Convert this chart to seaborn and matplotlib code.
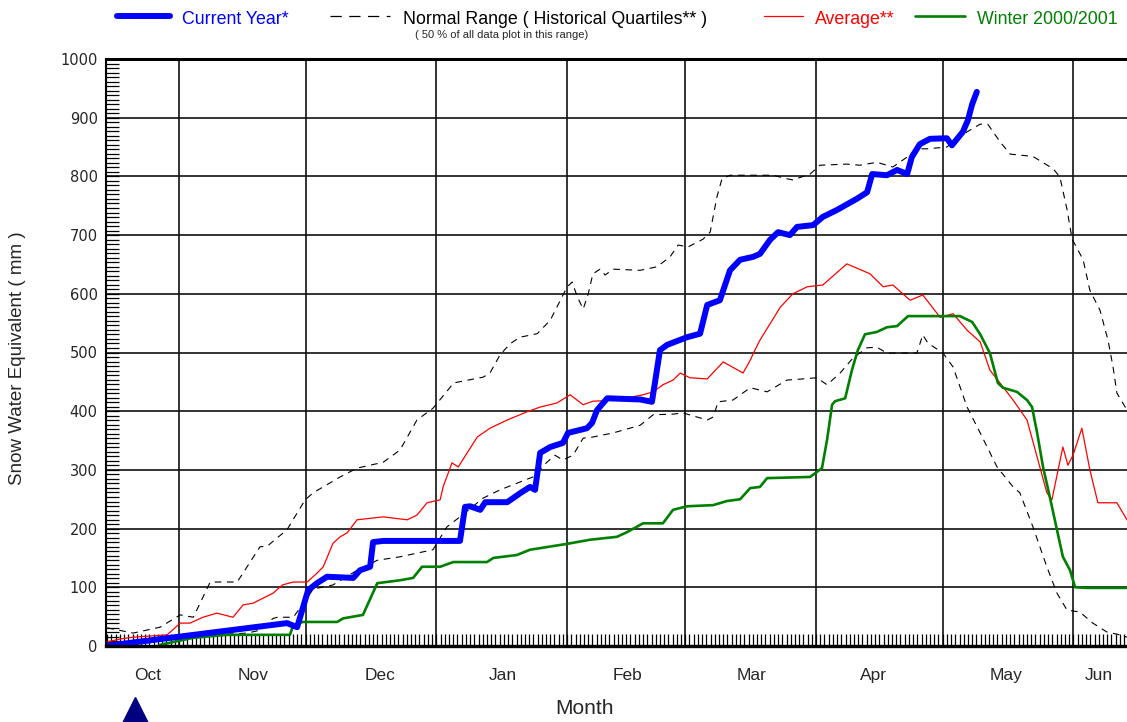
import pandas as pd
import matplotlib
matplotlib.use('Agg')
import matplotlib.pyplot as plt
import seaborn as sns
from matplotlib.lines import Line2D
from matplotlib.ticker import MultipleLocator, FixedLocator, NullFormatter
from matplotlib.transforms import blended_transform_factory

# x = days since Oct 1, y = snow water equivalent (mm)
cur_day = [13.5, 56.6, 59.0, 60.9, 61.6, 63.7, 66.1, 72.3, 73.9, 76.3, 77.0, 79.4, 97.6, 98.8, 100.0,
           102.4, 103.6, 108.8, 111.8, 114.2, 115.4, 116.6, 119.0, 122.0, 123.2, 127.7, 128.9, 130.1,
           132.5, 140.3, 143.1, 143.8, 145.0, 146.7, 151.4, 154.5, 156.2, 159.2, 161.6, 164.0, 167.1,
           168.7, 171.1, 173.0, 175.8, 177.5, 181.3, 183.6, 187.0, 191.7, 194.1, 195.3, 198.8, 201.2,
           203.6, 204.7, 206.6, 209.0, 213.0, 214.2, 216.8, 218.0, 219.0, 220.1]
cur_swe = [0, 39, 32, 78, 95, 107, 118, 116, 129, 135, 177, 179, 179, 237, 238, 232, 245, 245, 260,
           271, 266, 329, 339, 346, 363, 371, 380, 402, 422, 420, 416, 448, 504, 513, 526, 532, 581,
           589, 640, 658, 663, 668, 692, 705, 700, 714, 717, 731, 743, 762, 773, 804, 802, 811, 804,
           833, 855, 864, 865, 853, 876, 896, 923, 944]

hi_day = [14.0, 20.1, 26.5, 31.3, 34.4, 38.4, 44.8, 50.2, 51.9, 56.6, 60.9, 62.8, 69.2, 73.2, 79.4,
          83.4, 87.4, 91.2, 95.3, 96.0, 103.1, 104.7, 107.1, 109.5, 111.8, 115.9, 119.0, 123.0, 124.2,
          125.4, 126.8, 128.0, 129.1, 130.8, 132.0, 133.9, 140.3, 144.3, 147.4, 149.3, 151.7, 155.2,
          156.9, 158.5, 159.7, 161.6, 171.8, 175.1, 176.5, 180.6, 182.9, 189.3, 192.4, 196.4, 200.2,
          203.6, 205.9, 208.3, 213.0, 217.8, 220.9, 222.7, 225.6, 228.0, 233.4, 238.2, 239.8, 241.5,
          242.7, 245.3, 246.9, 249.3, 251.2, 252.4, 253.3, 255.7]
hi_swe = [31, 22, 32, 53, 49, 109, 109, 169, 170, 198, 249, 261, 288, 303, 313, 334, 385, 405, 441,
          448, 458, 465, 496, 515, 526, 532, 555, 612, 620, 595, 574, 600, 634, 642, 632, 642, 640,
          646, 663, 683, 680, 693, 705, 765, 796, 802, 802, 796, 794, 804, 819, 821, 819, 824, 816,
          833, 847, 847, 850, 876, 889, 889, 859, 838, 834, 813, 799, 743, 693, 658, 606, 572, 521,
          475, 431, 402]

lo_day = [13.5, 24.2, 38.4, 47.2, 50.2, 53.3, 54.3, 58.1, 61.4, 62.8, 67.5, 73.2, 78.0, 83.4, 91.2,
          94.5, 97.6, 103.1, 107.1, 114.9, 118.2, 120.1, 122.0, 124.4, 126.8, 129.1, 133.9, 140.3,
          143.4, 148.1, 150.5, 156.2, 157.6, 158.8, 162.3, 166.4, 170.4, 175.1, 178.9, 182.2, 184.6,
          187.7, 190.8, 194.1, 196.4, 198.8, 205.9, 207.3, 208.5, 212.1, 214.5, 217.8, 220.9, 224.9,
          228.7, 230.3, 233.4, 236.7, 239.1, 241.5, 244.5, 247.6, 250.9, 254.0, 255.7]
lo_swe = [5, 8, 19, 22, 27, 47, 49, 49, 82, 97, 104, 129, 146, 152, 164, 203, 220, 252, 266, 288,
          313, 325, 317, 325, 354, 356, 363, 376, 394, 395, 397, 385, 390, 416, 419, 440, 433, 453,
          455, 457, 445, 465, 491, 508, 509, 499, 499, 530, 516, 499, 475, 407, 363, 305, 271, 261,
          203, 135, 90, 61, 58, 39, 24, 19, 15]

avg_day = [14.0, 17.1, 20.1, 28.2, 31.3, 33.6, 36.7, 40.0, 43.8, 46.2, 48.6, 53.3, 55.5, 58.1, 61.4,
           63.7, 65.2, 67.5, 69.2, 70.9, 73.2, 79.4, 85.1, 87.4, 89.8, 92.9, 93.6, 95.7, 97.2, 99.3,
           101.7, 104.7, 108.8, 113.5, 116.6, 120.6, 123.7, 126.8, 129.1, 134.8, 141.0, 143.4, 145.7,
           148.1, 149.8, 152.1, 156.2, 160.0, 164.7, 166.4, 167.5, 168.7, 173.5, 176.5, 179.9, 183.6,
           189.3, 194.8, 197.9, 200.2, 204.3, 207.3, 211.4, 214.5, 217.8, 220.9, 223.2, 225.6, 228.7,
           232.0, 234.4, 236.7, 237.9, 240.5, 241.7, 242.9, 245.0, 246.9, 248.8, 253.3, 255.7]
avg_swe = [7, 12, 15, 19, 39, 39, 49, 56, 49, 70, 73, 90, 104, 109, 109, 124, 135, 175, 186, 193,
           215, 220, 215, 223, 244, 249, 271, 312, 305, 329, 356, 371, 385, 399, 407, 414, 428, 411,
           417, 419, 428, 433, 445, 453, 465, 457, 455, 484, 465, 487, 504, 521, 577, 600, 612, 615,
           651, 634, 612, 615, 589, 598, 560, 566, 538, 518, 470, 448, 419, 385, 322, 261, 249, 339,
           308, 325, 371, 300, 244, 244, 215]

w01_day = [26.5, 34.4, 42.4, 57.3, 58.1, 60.4, 68.5, 69.9, 74.6, 78.0, 83.4, 86.5, 88.6, 92.9, 96.0,
           104.0, 105.5, 111.1, 114.2, 123.0, 128.4, 134.8, 137.2, 141.0, 145.7, 148.1, 151.4, 157.6,
           160.9, 164.0, 166.4, 168.7, 170.4, 180.6, 183.4, 184.6, 185.8, 186.5, 188.9, 190.5, 191.9,
           193.6, 196.4, 198.8, 201.2, 203.8, 216.1, 219.0, 220.9, 223.2, 225.1, 226.3, 229.6, 232.0,
           233.2, 234.4, 235.8, 237.4, 239.1, 240.5, 242.2, 243.4, 246.2, 255.7]
w01_swe = [2, 14, 19, 19, 36, 41, 41, 47, 53, 107, 112, 116, 135, 135, 143, 143, 150, 155, 164, 174,
           181, 186, 194, 209, 209, 232, 238, 240, 247, 250, 269, 271, 286, 288, 303, 351, 411, 417,
           422, 470, 504, 531, 535, 543, 545, 562, 562, 552, 531, 499, 448, 440, 433, 419, 407, 363,
           305, 254, 198, 152, 129, 100, 99, 99]

month_starts = [31, 61, 92, 123, 151, 182, 212, 243]
month_names = ['Oct', 'Nov', 'Dec', 'Jan', 'Feb', 'Mar', 'Apr', 'May', 'Jun']
month_label_days = [23.5, 48.6, 78.7, 107.8, 137.2, 166.8, 195.5, 227.0, 249.0]
today_day = 20.6

sns.set_style('white')
plt.rcParams['font.family'] = ['Liberation Sans', 'DejaVu Sans']

W, H = 1127, 722
fig = plt.figure(figsize=(W / 100, H / 100), dpi=100)
ax = fig.add_axes([106 / W, 1 - 646 / H, (W - 106) / W, (646 - 59) / H])

dash = (0, (6, 5))
sns.lineplot(data=pd.DataFrame({'day': hi_day, 'swe': hi_swe}), x='day', y='swe', ax=ax,
             color='black', linewidth=0.8, linestyle=dash)
sns.lineplot(data=pd.DataFrame({'day': lo_day, 'swe': lo_swe}), x='day', y='swe', ax=ax,
             color='black', linewidth=0.8, linestyle=dash)
sns.lineplot(data=pd.DataFrame({'day': avg_day, 'swe': avg_swe}), x='day', y='swe', ax=ax,
             color='#ff0000', linewidth=0.9)
sns.lineplot(data=pd.DataFrame({'day': w01_day, 'swe': w01_swe}), x='day', y='swe', ax=ax,
             color='#008000', linewidth=1.9)
sns.lineplot(data=pd.DataFrame({'day': cur_day, 'swe': cur_swe}), x='day', y='swe', ax=ax,
             color='#0000ff', linewidth=4.3, solid_capstyle='round', solid_joinstyle='round')

ax.set_xlim(13.7, 255.7)
ax.set_ylim(0, 1000)
ax.set_xlabel('')
ax.set_ylabel('')

ax.xaxis.set_major_locator(FixedLocator(month_starts))
ax.xaxis.set_major_formatter(NullFormatter())
ax.xaxis.set_minor_locator(MultipleLocator(1))
ax.yaxis.set_major_locator(MultipleLocator(100))
ax.yaxis.set_minor_locator(MultipleLocator(100 / 13))
ax.grid(True, which='major', color='#111111', linewidth=1.2)
ax.set_axisbelow(True)
ax.tick_params(axis='x', which='both', direction='in', length=9, width=0.9, color='black',
               bottom=True, labelbottom=False)
ax.tick_params(axis='y', which='both', direction='in', length=9, width=0.9, color='black',
               left=True, labelsize=10.5, pad=6, labelfontfamily='DejaVu Sans')

for side, lw in [('top', 2.2), ('bottom', 2.4), ('left', 1.5)]:
    ax.spines[side].set_color('black')
    ax.spines[side].set_linewidth(lw)
ax.spines['right'].set_visible(False)

sec = ax.secondary_xaxis('bottom')
sec.set_xticks(month_label_days, labels=month_names)
sec.tick_params(length=0, pad=16, labelsize=12.5)
sec.spines['bottom'].set_visible(False)

# marker under the axis
trans = blended_transform_factory(ax.transData, ax.transAxes)
ax.plot([today_day], [-0.109], marker='^', markersize=19, color='#000080', transform=trans,
        clip_on=False, linestyle='none')

fig.text(18 / W, 1 - 358 / H, 'Snow Water Equivalent ( mm )', rotation=90, ha='center',
         va='center', fontsize=13.5)
fig.text(585 / W, 1 - 709 / H, 'Month', ha='center', va='center', fontsize=15)

# legend across the top
def legend_item(x0, x1, text_x, text, color, lw, ls='-'):
    fig.add_artist(Line2D([x0 / W, x1 / W], [1 - 16 / H, 1 - 16 / H], color=color, linewidth=lw,
                          linestyle=ls, transform=fig.transFigure))
    fig.text(text_x / W, 1 - 19 / H, text, color=color, ha='left', va='center', fontsize=12.8)

legend_item(117, 170, 182, 'Current Year*', '#0000ff', 4.3)
legend_item(330, 390, 403, 'Normal Range ( Historical Quartiles** )', 'black', 0.9, (0, (9, 6)))
legend_item(764, 803, 815, 'Average**', '#ff0000', 0.9)
legend_item(915, 965, 977, 'Winter 2000/2001', '#008000', 1.9)
fig.text(415 / W, 1 - 35 / H, '( 50 % of all data plot in this range)', ha='left', va='center',
         fontsize=8)

fig.savefig('out.png', dpi=100)
